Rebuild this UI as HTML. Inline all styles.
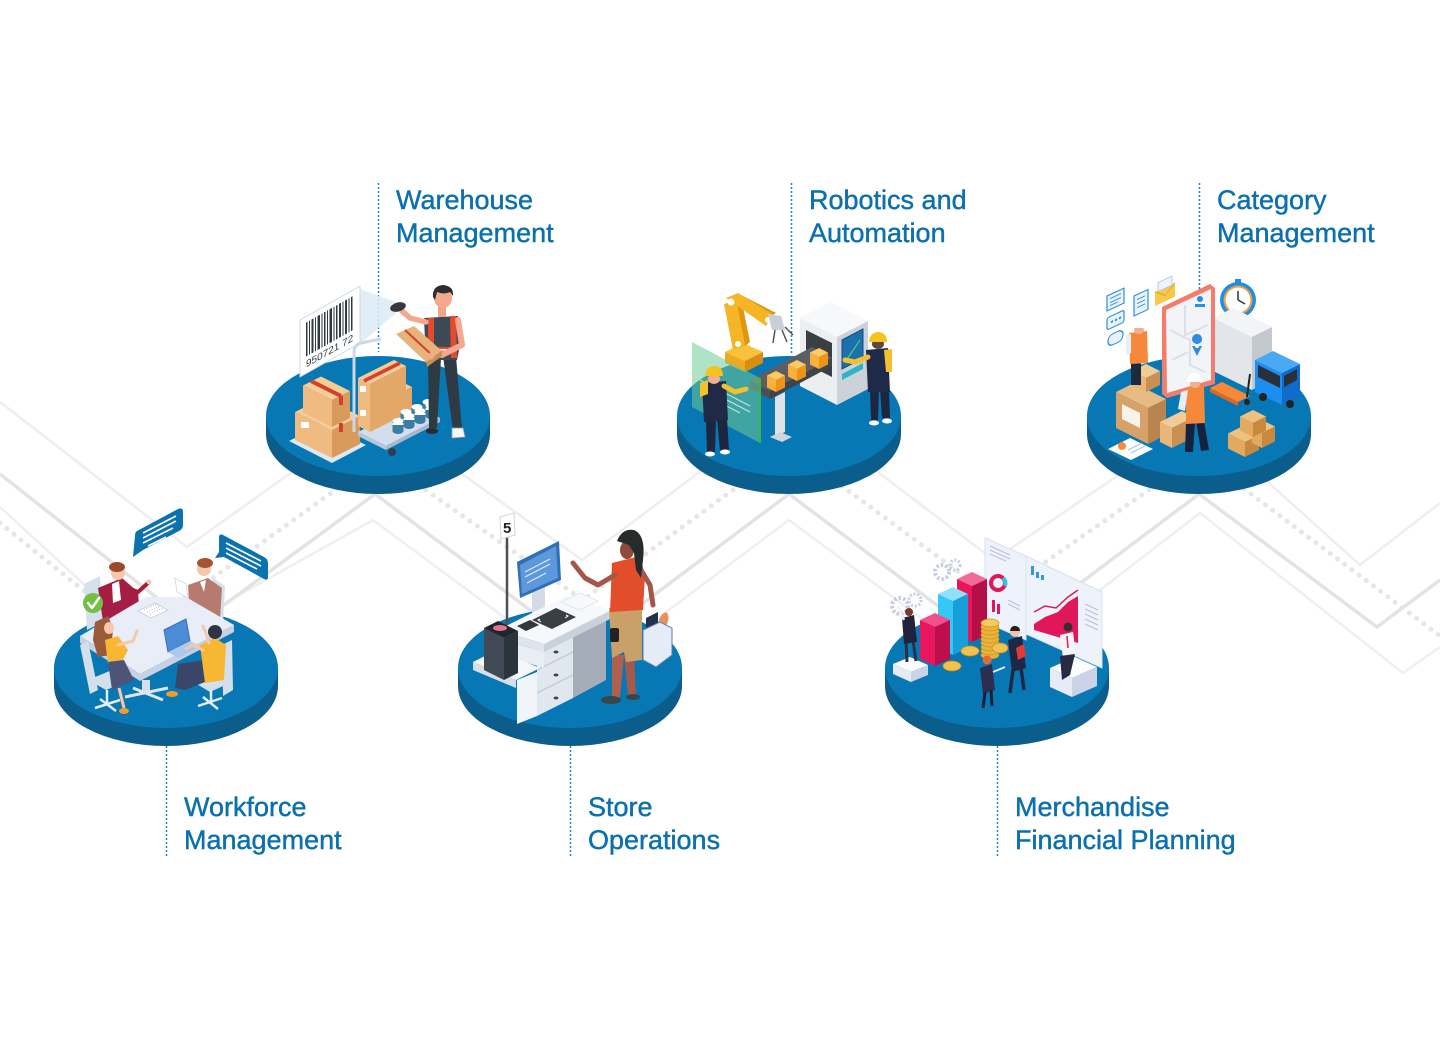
<!DOCTYPE html>
<html>
<head>
<meta charset="utf-8">
<style>
  html,body{margin:0;padding:0;background:#ffffff;}
  #wrap{position:relative;width:1440px;height:1039px;overflow:hidden;background:#fff;}
  svg{position:absolute;left:0;top:0;}
  .lbl{position:absolute;font-family:"Liberation Sans",Arial,sans-serif;font-size:27px;line-height:33px;color:#0b71ae;-webkit-text-stroke:0.45px #0b71ae;white-space:nowrap;letter-spacing:0px;}
</style>
</head>
<body>
<div id="wrap">
<svg width="1440" height="1039" viewBox="0 0 1440 1039" xmlns="http://www.w3.org/2000/svg">
  <!-- background band lines -->
  <g fill="none" stroke-linejoin="round">
    <polyline points="0,402 187,547 376,412 582,560 789,405 994,560 1199,420 1360,565 1440,503" stroke="#eeeeee" stroke-width="2.5"/>
    <polyline points="0,507 150,645 373,520 582,675 789,520 994,672 1200,513 1403,673 1440,647" stroke="#efefef" stroke-width="2.5"/>
    <polyline points="0,474 194,627 375,494 582,649 789,494 994,648 1199,494 1377,627 1440,580" stroke="#e3e3e3" stroke-width="3.5"/>
    <polyline points="0,523 136,633 380,458 583,600 790,448 994,598 1199,455 1440,636" stroke="#e6e6e6" stroke-width="5" stroke-dasharray="0 9" stroke-linecap="round"/>
  </g>

  <!-- label dotted lines -->
  <g stroke="#1f86c8" stroke-width="1.5" stroke-dasharray="2 2">
    <line x1="378.5" y1="183" x2="378.5" y2="352"/>
    <line x1="791.5" y1="183" x2="791.5" y2="354"/>
    <line x1="1199.5" y1="183" x2="1199.5" y2="300"/>
    <line x1="166.5" y1="746" x2="166.5" y2="856"/>
    <line x1="570.5" y1="746" x2="570.5" y2="856"/>
    <line x1="997.5" y1="746" x2="997.5" y2="856"/>
  </g>

  <!-- discs -->
  <g>
    <ellipse cx="378" cy="434" rx="112" ry="60" fill="#0b5d8c"/><rect x="266" y="416" width="224" height="18" fill="#0b5d8c"/><ellipse cx="378" cy="416" rx="112" ry="60" fill="#0778b4"/>
    <ellipse cx="789" cy="434" rx="112" ry="60" fill="#0b5d8c"/><rect x="677" y="416" width="224" height="18" fill="#0b5d8c"/><ellipse cx="789" cy="416" rx="112" ry="60" fill="#0778b4"/>
    <ellipse cx="1199" cy="434" rx="112" ry="60" fill="#0b5d8c"/><rect x="1087" y="416" width="224" height="18" fill="#0b5d8c"/><ellipse cx="1199" cy="416" rx="112" ry="60" fill="#0778b4"/>
    <ellipse cx="166" cy="686" rx="112" ry="60" fill="#0b5d8c"/><rect x="54" y="668" width="224" height="18" fill="#0b5d8c"/><ellipse cx="166" cy="668" rx="112" ry="60" fill="#0778b4"/>
    <ellipse cx="570" cy="686" rx="112" ry="60" fill="#0b5d8c"/><rect x="458" y="668" width="224" height="18" fill="#0b5d8c"/><ellipse cx="570" cy="668" rx="112" ry="60" fill="#0778b4"/>
    <ellipse cx="997" cy="686" rx="112" ry="60" fill="#0b5d8c"/><rect x="885" y="668" width="224" height="18" fill="#0b5d8c"/><ellipse cx="997" cy="668" rx="112" ry="60" fill="#0778b4"/>
  </g>

  <!-- ============ WAREHOUSE ============ -->
  <g>
    <polygon points="360,289 396,302 396,313 360,344" fill="#dcebf7" opacity="0.85"/>
    <g transform="translate(300,320) skewY(-29.5)">
      <rect x="0" y="0" width="60" height="57" fill="#ffffff" stroke="#cfd8e2" stroke-width="1"/>
      <g fill="#2f3a44">
        <rect x="6" y="6" width="1.5" height="34"/><rect x="9" y="6" width="1" height="34"/><rect x="11.5" y="6" width="2" height="34"/>
        <rect x="15" y="6" width="1" height="34"/><rect x="17.5" y="6" width="2.5" height="34"/><rect x="21.5" y="6" width="1" height="34"/>
        <rect x="24" y="6" width="1.5" height="34"/><rect x="27" y="6" width="1" height="34"/><rect x="29.5" y="6" width="2.5" height="34"/>
        <rect x="33.5" y="6" width="1" height="34"/><rect x="36" y="6" width="1.5" height="34"/><rect x="39" y="6" width="2" height="34"/>
        <rect x="42.5" y="6" width="1" height="34"/><rect x="45" y="6" width="2" height="34"/><rect x="48.5" y="6" width="1" height="34"/>
        <rect x="51" y="6" width="1.5" height="34"/>
      </g>
      <text x="6" y="51" font-family="Liberation Sans, sans-serif" font-size="10" fill="#2f3a44">950721 72</text>
    </g>
    <polygon points="332,463 289,441 322,424 366,445" fill="#dfe8f4"/>
    <polygon points="332,458 295,440 295,412 332,430" fill="#efbb80"/>
    <polygon points="332,458 360,444 360,416 332,430" fill="#d99b5c"/>
    <polygon points="332,430 295,412 323,398 360,416" fill="#f5cb96"/>
    <rect x="301" y="422" width="8" height="6" fill="#fff"/>
    <polygon points="332,427 303,412.5 303,385.5 332,400" fill="#efbb80"/>
    <polygon points="332,427 350,418 350,391 332,400" fill="#d99b5c"/>
    <polygon points="332,400 303,385.5 321,376.5 350,391" fill="#f5cb96"/>
    <line x1="311" y1="381" x2="341" y2="396" stroke="#d3412b" stroke-width="4"/>
    <line x1="341" y1="396" x2="341" y2="405" stroke="#d3412b" stroke-width="4"/>
    <line x1="341" y1="423" x2="341" y2="432" stroke="#d3412b" stroke-width="4"/>
    <path d="M354,432 L354,352 Q354,345 361,343 L381,339" fill="none" stroke="#cbd8e8" stroke-width="3"/>
    <polygon points="358,432 412,405 440,418 386,446" fill="#d3deec"/>
    <polygon points="358,432 386,446 386,450 358,436" fill="#b9c7d9"/>
    <polygon points="386,446 440,418 440,422 386,450" fill="#a9b8cc"/>
    <circle cx="392" cy="452" r="4" fill="#2c3e50"/>
    <polygon points="370,432 358,426 358,402 370,408" fill="#efbb80"/>
    <polygon points="370,432 412,411 412,387 370,408" fill="#e3a868"/>
    <polygon points="370,408 358,402 400,381 412,387" fill="#f5cb96"/>
    <polygon points="370,408 358,402 358,378 370,384" fill="#efbb80"/>
    <polygon points="370,408 406,390 406,366 370,384" fill="#e3a868"/>
    <polygon points="370,384 358,378 394,360 406,366" fill="#f5cb96"/>
    <line x1="364" y1="381" x2="400" y2="363" stroke="#d3412b" stroke-width="3.5"/>
    <rect x="360" y="386" width="6" height="6" fill="#fff"/><rect x="360" y="410" width="6" height="6" fill="#fff"/>
    <g>
      <g fill="#3a7ca5"><rect x="400.5" y="412" width="11" height="10"/><ellipse cx="406" cy="422" rx="5.5" ry="3"/><rect x="411.5" y="407" width="11" height="10"/><ellipse cx="417" cy="417" rx="5.5" ry="3"/><rect x="422.5" y="402" width="11" height="10"/><ellipse cx="428" cy="412" rx="5.5" ry="3"/></g>
      <g fill="#ffffff"><ellipse cx="406" cy="412" rx="5.5" ry="3"/><ellipse cx="417" cy="407" rx="5.5" ry="3"/><ellipse cx="428" cy="402" rx="5.5" ry="3"/></g>
      <g fill="#3a7ca5"><rect x="392.5" y="421" width="11" height="10"/><ellipse cx="398" cy="431" rx="5.5" ry="3"/><rect x="403.5" y="416" width="11" height="10"/><ellipse cx="409" cy="426" rx="5.5" ry="3"/><rect x="414.5" y="411" width="11" height="10"/><ellipse cx="420" cy="421" rx="5.5" ry="3"/><rect x="425.5" y="406" width="11" height="10"/><ellipse cx="431" cy="416" rx="5.5" ry="3"/></g>
      <g fill="#ffffff"><ellipse cx="398" cy="421" rx="5.5" ry="3"/><ellipse cx="409" cy="416" rx="5.5" ry="3"/><ellipse cx="420" cy="411" rx="5.5" ry="3"/><ellipse cx="431" cy="406" rx="5.5" ry="3"/>
      <rect x="392.5" y="423" width="11" height="2"/><rect x="403.5" y="418" width="11" height="2"/><rect x="414.5" y="413" width="11" height="2"/><rect x="425.5" y="408" width="11" height="2"/></g>
    </g>
    <polygon points="428,358 441,358 437,428 429,428" fill="#2f3b44"/>
    <polygon points="443,356 456,356 462,430 453,431" fill="#2f3b44"/>
    <ellipse cx="432" cy="431" rx="6" ry="3" fill="#2b2b2b"/>
    <polygon points="452,428 463,428 465,437 452,438" fill="#f4f6f8" stroke="#9aa3ab" stroke-width="0.8"/>
    <polygon points="424,318 458,316 461,340 457,360 427,360 425,340" fill="#3d4a55"/>
    <polygon points="428,318 434,318 434,358 428,358" fill="#e44a2b"/>
    <polygon points="450,316 456,316 457,358 451,358" fill="#e44a2b"/>
    <rect x="427" y="347" width="30" height="5" fill="#e44a2b"/>
    <rect x="427" y="349" width="30" height="1.5" fill="#ffffff"/>
    <rect x="438" y="306" width="8" height="11" fill="#f1a38a"/>
    <ellipse cx="443" cy="298" rx="9" ry="10" fill="#f3a88f"/>
    <path d="M433,297 Q432,286 443,285 Q454,286 453,296 L450,292 Q444,295 437,292 L435,300 Z" fill="#2b2d33"/>
    <polyline points="458,320 462,345 442,355" fill="none" stroke="#f3a88f" stroke-width="6" stroke-linecap="round" stroke-linejoin="round"/>
    <polygon points="396,334 414,326 442,351 426,362" fill="#e7b27c"/>
    <polygon points="426,362 442,351 442,356 427,367" fill="#c98f55"/>
    <line x1="405" y1="330" x2="433" y2="356" stroke="#d3412b" stroke-width="2"/>
    <polyline points="426,322 410,318 402,311" fill="none" stroke="#f3a88f" stroke-width="5.5" stroke-linecap="round" stroke-linejoin="round"/>
    <ellipse cx="398" cy="307" rx="8" ry="4.5" fill="#35383d" transform="rotate(-15 398 307)"/>
    <circle cx="431" cy="356" r="3.5" fill="#f3a88f"/>
  </g>

  <!-- ============ ROBOTICS ============ -->
  <g>
    <polygon points="800,318 831,302 868,321 837,337" fill="#f7f8fa"/>
    <polygon points="800,318 837,337 837,405 800,386" fill="#eceff2"/>
    <polygon points="837,337 868,321 868,389 837,405" fill="#cdd2d8"/>
    <polygon points="806,330 832,343 832,377 806,364" fill="#3a3f45"/>
    <polygon points="842,340 863,329 863,358 842,369" fill="#1d6fb0" stroke="#0f4f85" stroke-width="1"/>
    <polyline points="845,362 852,352 860,340" fill="none" stroke="#3fd07a" stroke-width="1.2"/>
    <polygon points="842,374 863,363 863,369 842,380" fill="#2bb5c8"/>
    <polygon points="775,397 785,392 785,432 775,437" fill="#dfe3e8"/>
    <polygon points="770,437 780,432 792,437 782,442" fill="#cfd5dc"/>
    <polygon points="750,380 812,347 832,358 770,391" fill="#5a5f66"/>
    <polygon points="770,391 832,358 832,366 770,399" fill="#3f444b"/>
    <polygon points="750,380 770,391 770,399 750,388" fill="#4a4f56"/>
    <g>
      <polygon points="776,392 767,387.5 767,375.5 776,380" fill="#fbb03b"/><polygon points="776,392 785,387.5 785,375.5 776,380" fill="#ee9418"/><polygon points="776,380 767,375.5 776,371 785,375.5" fill="#fdcb66"/>
      <polygon points="797,381 788,376.5 788,364.5 797,369" fill="#fbb03b"/><polygon points="797,381 806,376.5 806,364.5 797,369" fill="#ee9418"/><polygon points="797,369 788,364.5 797,360 806,364.5" fill="#fdcb66"/>
      <polygon points="819,369 810,364.5 810,352.5 819,357" fill="#fbb03b"/><polygon points="819,369 828,364.5 828,352.5 819,357" fill="#ee9418"/><polygon points="819,357 810,352.5 819,348 828,352.5" fill="#fdcb66"/>
    </g>
    <polygon points="725,352 743,343 763,352 745,361" fill="#f9c23c"/>
    <polygon points="725,352 745,361 745,372 725,363" fill="#f0a91e"/>
    <polygon points="745,361 763,352 763,363 745,372" fill="#d98e0d"/>
    <polygon points="733,350 745,346 736,300 724,304" fill="#f6b524"/>
    <polygon points="745,346 750,342 741,297 736,300" fill="#e0960f"/>
    <polygon points="726,298 738,293 773,315 766,326" fill="#f6b524"/>
    <polygon points="738,293 743,296 776,313 773,315" fill="#e0960f"/>
    <circle cx="731" cy="302" r="3.5" fill="#fff"/><circle cx="768" cy="320" r="3" fill="#fff"/><circle cx="738" cy="344" r="3" fill="#fff"/>
    <polygon points="768,314 781,316 785,330 772,330" fill="#c9cfd6"/>
    <g stroke="#555" stroke-width="1.5" fill="none"><polyline points="775,330 773,343"/><polyline points="782,330 787,342"/><polyline points="785,327 793,335"/></g>
    <polygon points="692,342 760,378 760,443 692,407" fill="#6fca93" opacity="0.55"/>
    <line x1="760" y1="378" x2="760" y2="443" stroke="#39b54a" stroke-width="2"/>
    <g stroke="#e8f6ee" stroke-width="1" opacity="0.8"><line x1="700" y1="380" x2="750" y2="406"/><line x1="700" y1="386" x2="750" y2="412"/><line x1="700" y1="392" x2="740" y2="413"/></g>
    <polygon points="706,420 716,420 715,452 707,452" fill="#1c2640"/>
    <polygon points="717,418 727,418 729,450 720,451" fill="#1c2640"/>
    <polygon points="702,383 726,381 728,420 704,422" fill="#1e2a47"/>
    <polygon points="700,383 708,380 708,394 700,397" fill="#f5c02e"/>
    <polyline points="724,386 735,392 746,389" fill="none" stroke="#f5c02e" stroke-width="5" stroke-linecap="round" stroke-linejoin="round"/>
    <ellipse cx="714" cy="379" rx="6" ry="5" fill="#f2b08f"/>
    <path d="M705,376 Q706,366 715,366 Q723,367 723,376 Z" fill="#f7c21c"/>
    <ellipse cx="710" cy="454" rx="5" ry="2.5" fill="#fff"/><ellipse cx="725" cy="452" rx="5" ry="2.5" fill="#fff"/>
    <polygon points="870,390 879,390 878,420 871,420" fill="#1c2640"/>
    <polygon points="880,389 889,389 890,418 882,418" fill="#1c2640"/>
    <polygon points="866,350 888,348 890,392 868,392" fill="#1e2a47"/>
    <polygon points="884,350 892,349 892,372 886,372" fill="#f5c02e"/>
    <polyline points="868,357 855,362 845,360" fill="none" stroke="#f5c02e" stroke-width="5" stroke-linecap="round" stroke-linejoin="round"/>
    <ellipse cx="878" cy="344" rx="6" ry="5" fill="#5a4a3a"/>
    <path d="M869,342 Q870,332 879,332 Q887,333 887,342 Z" fill="#f7c21c"/>
    <ellipse cx="874" cy="423" rx="5" ry="2.5" fill="#fff"/><ellipse cx="887" cy="421" rx="5" ry="2.5" fill="#fff"/>
  </g>

  <!-- ============ CATEGORY ============ -->
  <g>
    <g transform="translate(1107,296) skewY(-25)"><rect x="0" y="0" width="17" height="15" fill="#eaf3fd" stroke="#2d8fe0" stroke-width="1.2"/><line x1="3" y1="4" x2="14" y2="4" stroke="#2d8fe0"/><line x1="3" y1="8" x2="14" y2="8" stroke="#2d8fe0"/><line x1="3" y1="11" x2="11" y2="11" stroke="#2d8fe0"/></g>
    <g transform="translate(1107,318) skewY(-25)"><rect x="0" y="0" width="17" height="12" rx="2" fill="#eaf3fd" stroke="#2d8fe0" stroke-width="1.2"/><circle cx="5" cy="6" r="1.2" fill="#2d8fe0"/><circle cx="9" cy="6" r="1.2" fill="#2d8fe0"/><circle cx="13" cy="6" r="1.2" fill="#2d8fe0"/></g>
    <g transform="translate(1108,336) skewY(-25)"><rect x="0" y="0" width="15" height="11" rx="5" fill="#eaf3fd" stroke="#2d8fe0" stroke-width="1.2"/></g>
    <g transform="translate(1134,296) skewY(-25)"><rect x="0" y="0" width="14" height="20" fill="#eaf3fd" stroke="#2d8fe0" stroke-width="1.2"/><line x1="3" y1="5" x2="11" y2="5" stroke="#2d8fe0"/><line x1="3" y1="9" x2="11" y2="9" stroke="#2d8fe0"/><line x1="3" y1="13" x2="11" y2="13" stroke="#2d8fe0"/></g>
    <g transform="translate(1155,292) skewY(-25)"><rect x="0" y="0" width="20" height="14" fill="#f7c948"/><polyline points="0,0 10,8 20,0" fill="none" stroke="#e0a92a"/><rect x="3" y="-8" width="14" height="9" fill="#eef4fb" stroke="#9cc3ec" stroke-width="0.8"/></g>
    <circle cx="1238" cy="300" r="18" fill="#1e8fe3"/>
    <circle cx="1238" cy="300" r="14.5" fill="#f39a45"/>
    <circle cx="1238" cy="300" r="12.5" fill="#ffffff"/>
    <rect x="1235" y="279" width="6" height="4" fill="#1e8fe3"/>
    <line x1="1238" y1="300" x2="1238" y2="291" stroke="#333" stroke-width="1.5"/>
    <line x1="1238" y1="300" x2="1245" y2="304" stroke="#333" stroke-width="1.5"/>
    <polygon points="1213,318 1233,308 1272,327 1252,337" fill="#f3f4f6"/>
    <polygon points="1213,318 1252,337 1252,390 1213,371" fill="#e2e5e9"/>
    <polygon points="1252,337 1272,327 1272,380 1252,390" fill="#c4c9d0"/>
    <polygon points="1162,307 1210,284 1215,288 1215,384 1167,398 1162,394" fill="#f47c6c"/>
    <polygon points="1166,310 1211,289 1211,380 1167,393" fill="#f3f4f8"/>
    <g stroke="#dcdfe8" stroke-width="2" fill="none"><polyline points="1170,330 1190,340 1190,365 1205,372"/><polyline points="1185,305 1185,335 1208,325"/><polyline points="1172,360 1188,352"/></g>
    <circle cx="1200" cy="299" r="3" fill="#2a8de6"/><rect x="1195" y="304" width="10" height="3" fill="#2a8de6"/>
    <path d="M1197,344 a5,5 0 1,1 0.1,0 Z" fill="#2a8de6"/>
    <path d="M1192,346 L1197,356 L1202,346 Z" fill="#2a8de6"/>
    <circle cx="1197" cy="346" r="2" fill="#fff"/>
    <polygon points="1255,360 1273,351 1300,364 1282,373" fill="#4aa9f5"/>
    <polygon points="1255,360 1282,373 1282,405 1255,392" fill="#1c8ef0"/>
    <polygon points="1282,373 1300,364 1300,396 1282,405" fill="#0f6ccc"/>
    <polygon points="1258,365 1280,376 1280,388 1258,377" fill="#2b2f3a"/>
    <polygon points="1284,376 1297,369 1297,380 1284,387" fill="#2b2f3a"/>
    <circle cx="1263" cy="397" r="4" fill="#222"/><circle cx="1290" cy="404" r="4" fill="#222"/>
    <polygon points="1210,388 1238,402 1250,396 1222,382" fill="#f5883a"/>
    <polygon points="1210,388 1238,402 1238,406 1210,392" fill="#d96a22"/>
    <line x1="1247" y1="397" x2="1250" y2="374" stroke="#222" stroke-width="2"/>
    <circle cx="1247" cy="402" r="3" fill="#222"/>
    <polygon points="1148,444 1116,428 1116,392 1148,408" fill="#d7a16a"/>
    <polygon points="1148,444 1166,435 1166,399 1148,408" fill="#b98450"/>
    <polygon points="1148,408 1116,392 1134,383 1166,399" fill="#e8bb83"/>
    <polygon points="1122,404 1140,413 1140,428 1122,419" fill="#f7f2ea"/>
    <polygon points="1146,392 1132,385 1132,371 1146,378" fill="#e9b679"/>
    <polygon points="1146,392 1160,385 1160,371 1146,378" fill="#c99052"/>
    <polygon points="1146,378 1132,371 1146,364 1160,371" fill="#f2cc97"/>
    <polygon points="1172,448 1160,442 1160,422 1172,428" fill="#e9b679"/>
    <polygon points="1172,448 1194,437 1194,417 1172,428" fill="#c99052"/>
    <polygon points="1172,428 1160,422 1182,411 1194,417" fill="#f2cc97"/>
    <polygon points="1245,457 1228,448.5 1228,433.5 1245,442" fill="#e2aa60"/>
    <polygon points="1245,457 1259,450 1259,435 1245,442" fill="#c8893f"/>
    <polygon points="1245,442 1228,433.5 1242,426.5 1259,435" fill="#efc17f"/>
    <polygon points="1262,448 1252,443 1252,428 1262,433" fill="#e2aa60"/>
    <polygon points="1262,448 1275,441.5 1275,426.5 1262,433" fill="#c8893f"/>
    <polygon points="1262,433 1252,428 1265,421.5 1275,426.5" fill="#efc17f"/>
    <polygon points="1253,437 1240,430.5 1240,416.5 1253,423" fill="#e2aa60"/>
    <polygon points="1253,437 1266,430.5 1266,416.5 1253,423" fill="#c8893f"/>
    <polygon points="1253,423 1240,416.5 1253,410 1266,416.5" fill="#efc17f"/>
    <polygon points="1131,362 1141,362 1141,385 1131,385" fill="#1b2a3d"/>
    <polygon points="1129,333 1147,331 1148,363 1130,364" fill="#f5883a"/>
    <polygon points="1126,335 1131,334 1131,353 1126,354" fill="#e7eef7"/>
    <ellipse cx="1139" cy="330" rx="5" ry="4" fill="#f2b08f"/>
    <path d="M1131,328 Q1132,319 1139,319 Q1146,320 1146,328 Z" fill="#ffffff"/>
    <polygon points="1186,423 1195,423 1193,452 1185,452" fill="#14233b"/>
    <polygon points="1196,421 1204,421 1209,450 1201,451" fill="#14233b"/>
    <polygon points="1186,388 1204,386 1205,423 1186,424" fill="#f5883a"/>
    <polygon points="1181,392 1188,390 1185,411 1178,409" fill="#e5edf6"/>
    <ellipse cx="1195" cy="384" rx="5" ry="4" fill="#f2b08f"/>
    <path d="M1187,382 Q1188,373 1195,373 Q1202,374 1202,382 Z" fill="#ffffff"/>
    <polygon points="1108,449 1130,438 1153,449 1131,460" fill="#ffffff"/>
    <circle cx="1122" cy="446" r="4" fill="#f58b3b"/>
    <g stroke="#9cc3ec" stroke-width="1"><line x1="1128" y1="450" x2="1142" y2="443"/><line x1="1131" y1="453" x2="1145" y2="446"/></g>
  </g>

  <!-- ============ WORKFORCE ============ -->
  <g>
    <polygon points="84,584 100,576 103,622 87,630" fill="#d5e0ec"/>
    <polygon points="213,578 225,586 223,624 211,616" fill="#d5e0ec"/>
    <polygon points="98,588 122,578 138,592 140,618 104,628" fill="#a51d44"/>
    <polygon points="112,584 119,581 121,600 113,603" fill="#ffffff"/>
    <circle cx="118" cy="573" r="7" fill="#f6c7ab"/>
    <ellipse cx="117" cy="567" rx="8" ry="5" fill="#9c4a2b"/>
    <polyline points="128,588 138,592 148,583" fill="none" stroke="#a51d44" stroke-width="4" stroke-linecap="round"/>
    <circle cx="149" cy="582" r="2.5" fill="#f6c7ab"/>
    <polygon points="188,585 208,578 222,588 220,620 190,618" fill="#b67a6f"/>
    <polygon points="200,582 206,580 204,592" fill="#ffffff"/>
    <circle cx="204" cy="569" r="7" fill="#f6c7ab"/>
    <ellipse cx="205" cy="563" rx="8" ry="5" fill="#a55430"/>
    <polygon points="175,578 186,584 188,598 177,592" fill="#ffffff" stroke="#cfd7e4" stroke-width="0.8"/>
    <polygon points="80,636 146,597 186,597 234,625 140,674" fill="#e9edf7"/>
    <polygon points="80,636 140,674 234,625 234,632 140,681 80,643" fill="#c9d0e4"/>
    <polygon points="142,680 150,680 150,692 142,692" fill="#d9dfea"/>
    <g stroke="#dfe5ee" stroke-width="3"><line x1="125" y1="697" x2="168" y2="688"/><line x1="133" y1="688" x2="163" y2="700"/></g>
    <polygon points="138,611 155,603 168,610 151,618" fill="#ffffff" stroke="#c8ccd6" stroke-width="0.8"/>
    <g stroke="#b5b9c4" stroke-width="1" stroke-dasharray="1 1.5"><line x1="144" y1="610" x2="157" y2="604"/><line x1="147" y1="612" x2="160" y2="606"/><line x1="150" y1="614" x2="163" y2="608"/></g>
    <polygon points="164,630 186,619 190,641 168,652" fill="#4b8bd8" stroke="#3a6fb8" stroke-width="1"/>
    <polygon points="168,652 190,641 200,647 178,658" fill="#a9c9ee"/>
    <polygon points="80,645 88,641 98,690 90,694" fill="#d4dfec"/>
    <polygon points="88,680 112,670 130,680 106,690" fill="#d4dfec"/>
    <g stroke="#e6edf5" stroke-width="2.5"><line x1="95" y1="708" x2="120" y2="700"/><line x1="100" y1="699" x2="116" y2="711"/><line x1="107" y1="690" x2="107" y2="705"/></g>
    <path d="M95,622 L108,616 L113,628 L111,655 L98,657 L93,640 Z" fill="#9a5a3a"/>
    <ellipse cx="109" cy="628" rx="5" ry="6" fill="#f6c7ab"/>
    <polygon points="105,640 118,636 128,650 120,665 108,664" fill="#f7b733"/>
    <polyline points="118,645 133,641 137,631" fill="none" stroke="#f6c7ab" stroke-width="3" stroke-linecap="round"/>
    <polygon points="108,662 124,660 134,680 112,690" fill="#4c5478"/>
    <line x1="119" y1="688" x2="124" y2="708" stroke="#f6c7ab" stroke-width="3"/>
    <ellipse cx="124" cy="711" rx="5" ry="3" fill="#f49b2a"/>
    <polygon points="222,645 232,640 233,690 223,696" fill="#d4dfec"/>
    <polygon points="190,680 212,670 232,682 210,692" fill="#d4dfec"/>
    <g stroke="#e6edf5" stroke-width="2.5"><line x1="198" y1="706" x2="222" y2="698"/><line x1="203" y1="697" x2="218" y2="709"/><line x1="211" y1="691" x2="211" y2="703"/></g>
    <polygon points="178,664 205,660 210,680 185,690 175,688" fill="#3b4568"/>
    <ellipse cx="172" cy="694" rx="6" ry="3" fill="#f49b2a"/>
    <polygon points="200,645 215,638 226,645 224,680 205,683" fill="#f7b733"/>
    <polyline points="203,650 192,645 186,649" fill="none" stroke="#f6c7ab" stroke-width="3" stroke-linecap="round"/>
    <polyline points="209,643 206,633 203,626" fill="none" stroke="#f6c7ab" stroke-width="3" stroke-linecap="round"/>
    <circle cx="215" cy="632" r="7" fill="#2f3447"/>
    <path d="M137,531 L178,509 Q183,507 183,512 L183,525 Q183,529 179,531 L143,550 L133,557 L135,536 Q135,532 137,531 Z" fill="#0b72ad"/>
    <g stroke="#ffffff" stroke-width="1.6"><line x1="143" y1="533" x2="176" y2="516"/><line x1="143" y1="538" x2="176" y2="521"/><line x1="143" y1="543" x2="173" y2="528"/><line x1="148" y1="546" x2="166" y2="537"/></g>
    <path d="M223,535 L264,557 Q268,559 268,563 L268,577 Q268,581 264,579 L224,557 L215,558 L219,552 L219,538 Q219,533 223,535 Z" fill="#0b72ad"/>
    <g stroke="#ffffff" stroke-width="1.6"><line x1="226" y1="543" x2="261" y2="561"/><line x1="226" y1="548" x2="261" y2="566"/><line x1="226" y1="553" x2="257" y2="569"/></g>
    <circle cx="93" cy="603" r="10" fill="#72c043"/>
    <polyline points="88,603 92,608 99,598" fill="none" stroke="#ffffff" stroke-width="2.5" stroke-linecap="round" stroke-linejoin="round"/>
  </g>

  <!-- ============ STORE ============ -->
  <g>
    <line x1="507" y1="537" x2="507" y2="625" stroke="#4b5158" stroke-width="2.5"/>
    <polygon points="500,517 514,513 515,535 501,539" fill="#ffffff" stroke="#d0d6de" stroke-width="1"/>
    <text x="503" y="533" font-family="Liberation Sans, sans-serif" font-size="15" font-weight="bold" fill="#222">5</text>
    <polygon points="532,590 545,584 545,612 532,618" fill="#d3dbe4"/>
    <polygon points="517,562 559,541 561,580 520,598" fill="#2f6fb3"/>
    <polygon points="520,565 556,546 558,578 522,594" fill="#5d98dc"/>
    <g stroke="#e3eefb" stroke-width="1"><line x1="525" y1="572" x2="550" y2="559"/><line x1="525" y1="577" x2="550" y2="564"/><line x1="527" y1="583" x2="546" y2="573"/></g>
    <polygon points="573,628 606,612 606,680 573,698" fill="#a5aeb8"/>
    <polygon points="537,646 573,628 573,698 537,716" fill="#e1e7ee"/>
    <g stroke="#c3ccd6" stroke-width="1.5"><line x1="537" y1="670" x2="573" y2="652"/><line x1="537" y1="693" x2="573" y2="675"/></g>
    <g fill="#3d444b"><ellipse cx="556" cy="652" rx="2.5" ry="1.5"/><ellipse cx="556" cy="675" rx="2.5" ry="1.5"/><ellipse cx="556" cy="698" rx="2.5" ry="1.5"/></g>
    <polygon points="498,638 544,652 544,668 498,654" fill="#e9eef3"/>
    <polygon points="473,662 497,650 540,668 516,680" fill="#f4f6f9"/>
    <polygon points="473,662 516,680 516,688 473,670" fill="#d8dee6"/>
    <polygon points="517,680 537,672 537,716 517,724" fill="#f1f4f8"/>
    <polygon points="498,630 566,596 612,610 544,644" fill="#f6f8fb"/>
    <polygon points="498,630 544,644 544,652 498,638" fill="#dfe5ec"/>
    <polygon points="544,644 612,610 612,618 544,652" fill="#c9d1da"/>
    <polygon points="532,620 556,608 576,617 552,629" fill="#3a3f45"/>
    <g stroke="#ffffff" stroke-width="1" fill="none"><polyline points="540,619 538,620 541,622"/><polyline points="566,615 568,616 565,618"/></g>
    <polygon points="561,602 580,593 598,601 579,610" fill="#f8f9fb" stroke="#dde2e8" stroke-width="0.8"/>
    <polygon points="517,626 530,620 539,625 526,631" fill="#33383e"/>
    <polygon points="484,628 504,638 504,680 484,670" fill="#3f4a54"/>
    <polygon points="504,638 518,631 518,673 504,680" fill="#2b333b"/>
    <polygon points="484,628 498,621 518,631 504,638" fill="#1f262d"/>
    <ellipse cx="500" cy="628" rx="7" ry="3" fill="#e7708a"/>
    <polygon points="624,655 634,655 636,695 628,695" fill="#a45a4b"/>
    <ellipse cx="633" cy="697" rx="7" ry="3" fill="#38474a"/>
    <polygon points="612,655 624,655 620,697 612,697" fill="#b0604f"/>
    <ellipse cx="611" cy="700" rx="10" ry="4" fill="#38474a"/>
    <polygon points="609,608 642,606 642,660 626,662 624,652 612,658" fill="#caa06a"/>
    <rect x="610" y="628" width="9" height="14" rx="2" fill="#222"/>
    <polygon points="612,563 640,556 645,575 643,610 610,612" fill="#e24d2a"/>
    <polyline points="615,575 598,585 585,578 573,563" fill="none" stroke="#a3574a" stroke-width="5" stroke-linecap="round" stroke-linejoin="round"/>
    <polyline points="641,570 650,585 653,605" fill="none" stroke="#a3574a" stroke-width="5" stroke-linecap="round" stroke-linejoin="round"/>
    <ellipse cx="627" cy="550" rx="7" ry="9" fill="#8e4a3b"/>
    <path d="M617,541 Q622,528 634,530 Q646,535 643,560 L641,578 L636,570 L634,553 L629,545 Z" fill="#262b2c"/>
    <polygon points="646,618 658,612 658,640 646,646" fill="#23304a"/>
    <ellipse cx="663" cy="622" rx="4.5" ry="10" fill="#e9905d" transform="rotate(20 663 622)"/>
    <polygon points="643,630 660,622 672,628 672,655 656,667 643,660" fill="#e3ecf7" stroke="#5a7fae" stroke-width="1"/>
  </g>

  <!-- ============ MERCHANDISE ============ -->
  <g>
    <polygon points="985,538 1026,556 1026,640 985,622" fill="#eef3fb" stroke="#d6e0ee" stroke-width="1"/>
    <polygon points="1026,556 1102,592 1102,668 1026,634" fill="#eef3fb" stroke="#d6e0ee" stroke-width="1"/>
    <g stroke="#b8c2d6" stroke-width="1.2"><line x1="990" y1="546" x2="1010" y2="555"/><line x1="990" y1="550" x2="1010" y2="559"/><line x1="990" y1="554" x2="1006" y2="561"/><line x1="1008" y1="600" x2="1020" y2="606"/><line x1="1008" y1="604" x2="1020" y2="610"/><line x1="1085" y1="604" x2="1098" y2="610"/><line x1="1085" y1="609" x2="1098" y2="615"/><line x1="1085" y1="614" x2="1098" y2="620"/><line x1="1085" y1="619" x2="1098" y2="625"/><line x1="1085" y1="624" x2="1098" y2="630"/></g>
    <circle cx="998" cy="583" r="7" fill="none" stroke="#e0185b" stroke-width="4"/>
    <path d="M1003,578 A7,7 0 0,1 1005,586" fill="none" stroke="#2ec4f2" stroke-width="4"/>
    <rect x="992" y="600" width="3" height="12" fill="#e0185b"/><rect x="997" y="604" width="3" height="10" fill="#e0185b"/>
    <rect x="1031" y="566" width="3" height="9" fill="#2c9be0"/><rect x="1036" y="572" width="3" height="6" fill="#2c9be0"/><rect x="1041" y="575" width="3" height="5" fill="#2c9be0"/>
    <polygon points="1034,624 1045,617 1058,612 1068,602 1078,596 1078,643 1034,630" fill="#e0185b"/>
    <polyline points="1034,612 1045,606 1056,608 1068,597 1078,590" fill="none" stroke="#e0185b" stroke-width="1.5"/>
    <g fill="none" stroke="#c5cde6"><circle cx="942" cy="572" r="7" stroke-width="4" stroke-dasharray="2.5 2"/><circle cx="955" cy="565" r="5" stroke-width="3" stroke-dasharray="2 1.8"/><circle cx="900" cy="606" r="8" stroke-width="4" stroke-dasharray="2.5 2"/><circle cx="915" cy="600" r="6" stroke-width="3" stroke-dasharray="2 1.8"/></g>
    <polygon points="957,579 972,572 987,579 972,586" fill="#f36a98"/>
    <polygon points="957,579 972,586 972,642 957,635" fill="#e8175d"/>
    <polygon points="972,586 987,579 987,635 972,642" fill="#b50f48"/>
    <polygon points="938,594 953,587 968,594 953,601" fill="#8fe1fa"/>
    <polygon points="938,594 953,601 953,655 938,648" fill="#35c8f5"/>
    <polygon points="953,601 968,594 968,648 953,655" fill="#169fd8"/>
    <polygon points="920,620 935,613 950,620 935,627" fill="#f2508a"/>
    <polygon points="920,620 935,627 935,666 920,659" fill="#e8175d"/>
    <polygon points="935,627 950,620 950,659 935,666" fill="#bb104b"/>
    <g fill="#e9b43c" stroke="#c98f1e" stroke-width="0.7">
      <ellipse cx="990" cy="655" rx="9" ry="4"/><ellipse cx="990" cy="651" rx="9" ry="4"/><ellipse cx="990" cy="647" rx="9" ry="4"/><ellipse cx="990" cy="643" rx="9" ry="4"/><ellipse cx="990" cy="639" rx="9" ry="4"/><ellipse cx="990" cy="635" rx="9" ry="4"/><ellipse cx="990" cy="631" rx="9" ry="4"/><ellipse cx="990" cy="627" rx="9" ry="4"/>
    </g>
    <ellipse cx="990" cy="623" rx="9" ry="4" fill="#f6cd5a" stroke="#c98f1e" stroke-width="0.7"/>
    <g fill="#f2c14e" stroke="#c98f1e" stroke-width="0.8"><ellipse cx="952" cy="666" rx="9" ry="5"/><ellipse cx="970" cy="651" rx="9" ry="5"/><ellipse cx="1000" cy="648" rx="8" ry="5"/></g>
    <polygon points="893,664 910,657 928,665 911,672" fill="#fbfcfe"/>
    <polygon points="893,664 911,672 911,682 893,674" fill="#e6ebf5"/>
    <polygon points="911,672 928,665 928,675 911,682" fill="#cbd3e6"/>
    <polygon points="1050,668 1075,657 1097,667 1072,678" fill="#fbfcfe"/>
    <polygon points="1050,668 1072,678 1072,697 1050,687" fill="#e6ebf5"/>
    <polygon points="1072,678 1097,667 1097,686 1072,697" fill="#cbd3e6"/>
    <g stroke="#2b2f4a" stroke-width="3"><line x1="906" y1="640" x2="907" y2="662"/><line x1="913" y1="640" x2="916" y2="661"/></g>
    <polygon points="902,618 914,615 917,642 904,644" fill="#1f2238"/>
    <polyline points="904,620 898,606" stroke="#eef0f6" stroke-width="2.5" fill="none"/>
    <circle cx="909" cy="612" r="4" fill="#7a3b2a"/>
    <polygon points="980,668 992,664 995,690 983,694" fill="#2b2e4e"/>
    <g stroke="#1c1e33" stroke-width="3"><line x1="985" y1="692" x2="983" y2="708"/><line x1="991" y1="690" x2="992" y2="706"/></g>
    <circle cx="987" cy="660" r="4.5" fill="#e06a3a"/>
    <line x1="993" y1="672" x2="1005" y2="667" stroke="#eaeaf2" stroke-width="2"/>
    <polygon points="1008,640 1022,636 1026,668 1012,672" fill="#1e2744"/>
    <g stroke="#1e2744" stroke-width="3.5"><line x1="1013" y1="670" x2="1010" y2="693"/><line x1="1021" y1="668" x2="1024" y2="690"/></g>
    <circle cx="1015" cy="632" r="5" fill="#f2c4a8"/>
    <path d="M1010,631 Q1011,625 1016,626 Q1020,627 1020,631 Z" fill="#222"/>
    <polygon points="1016,648 1024,644 1026,656 1018,660" fill="#e23a3a"/>
    <polygon points="1060,635 1073,632 1076,655 1063,658" fill="#f5f5f7"/>
    <line x1="1067" y1="636" x2="1068" y2="648" stroke="#e0185b" stroke-width="1.5"/>
    <circle cx="1068" cy="627" r="4.5" fill="#3b2b2b"/>
    <polygon points="1060,656 1075,654 1070,675 1062,680" fill="#262a45"/>
  </g>
</svg>

<div class="lbl" style="left:396px;top:184px;">Warehouse<br>Management</div>
<div class="lbl" style="left:809px;top:184px;">Robotics and<br>Automation</div>
<div class="lbl" style="left:1217px;top:184px;">Category<br>Management</div>
<div class="lbl" style="left:184px;top:791px;">Workforce<br>Management</div>
<div class="lbl" style="left:588px;top:791px;">Store<br>Operations</div>
<div class="lbl" style="left:1015px;top:791px;">Merchandise<br>Financial Planning</div>
</div>
</body>
</html>
